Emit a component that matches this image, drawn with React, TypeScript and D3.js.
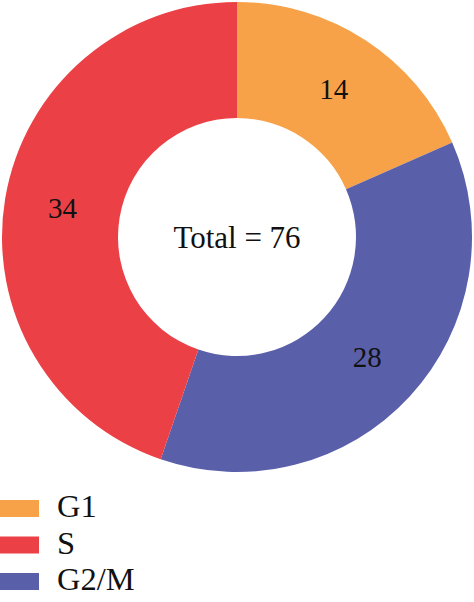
import React from "react";
import * as d3 from "d3";

const categories = ["G1", "S", "G2/M"];
const values = [14, 34, 28];
const sliceOrder = ["G1", "G2/M", "S"]; // clockwise from top
const colors = ["#F7A248", "#EB4046", "#5A5FAA"];
const centerLabel = "Total = 76";

const W = 474;
const H = 602;

export default function App() {
  const cx = 237;
  const cy = 237;
  const outerR = 235;
  const innerR = 119;

  const color = d3.scaleOrdinal<string, string>().domain(categories).range(colors);

  const data = sliceOrder.map((c) => ({ cat: c, value: values[categories.indexOf(c)] }));
  const pie = d3
    .pie<{ cat: string; value: number }>()
    .value((d) => d.value)
    .sort(null);
  const arcs = pie(data);
  const arc = d3
    .arc<d3.PieArcDatum<{ cat: string; value: number }>>()
    .innerRadius(innerR)
    .outerRadius(outerR);

  const legendY = d3.scalePoint<string>().domain(categories).range([509, 582]);
  const font = "'Liberation Serif', 'Times New Roman', serif";

  return (
    <svg
      width={W}
      height={H}
      style={{ position: "absolute", left: 0, top: 0, background: "#fff" }}
    >
      <g transform={`translate(${cx},${cy})`}>
        {arcs.map((a) => (
          <path key={a.data.cat} d={arc(a) || ""} fill={color(a.data.cat)} />
        ))}
        {arcs.map((a) => {
          const [x, y] = arc.centroid(a);
          return (
            <text
              key={"l" + a.data.cat}
              x={x}
              y={y}
              textAnchor="middle"
              dominantBaseline="central"
              fontFamily={font}
              fontSize={29}
              fill="#111"
            >
              {a.data.value}
            </text>
          );
        })}
        <text
          x={0}
          y={0}
          textAnchor="middle"
          dominantBaseline="central"
          fontFamily={font}
          fontSize={31}
          fill="#111"
        >
          {centerLabel}
        </text>
      </g>
      {categories.map((c) => (
        <g key={"lg" + c} transform={`translate(0,${legendY(c)})`}>
          <rect x={0} y={-9} width={39} height={17} fill={color(c)} />
          <text
            x={57}
            y={8}
            fontFamily={font}
            fontSize={32.5}
            fill="#111"
          >
            {c}
          </text>
        </g>
      ))}
    </svg>
  );
}
